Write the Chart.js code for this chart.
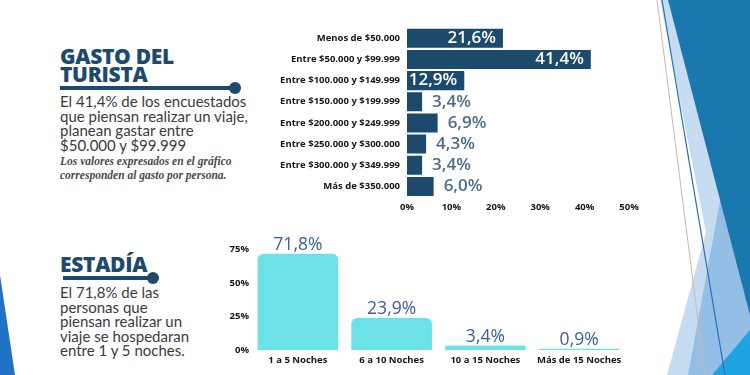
<!DOCTYPE html>
<html>
<head>
<meta charset="utf-8">
<script src="https://cdn.jsdelivr.net/npm/chart.js@4"></script>
<style>
  body { margin:0; width:750px; height:375px; background:#fff; overflow:hidden; position:relative; font-family:Lato, "Open Sans", sans-serif; }
  .abs { position:absolute; }
  .title { font-family:"Open Sans", sans-serif; font-weight:800; font-size:21px; line-height:18px; color:#1d4a6c; letter-spacing:-0.3px; }
  .body { font-family:Lato, sans-serif; font-size:15px; line-height:14.5px; color:#3b3b3b; }
  .note { font-family:"Liberation Serif", serif; font-style:italic; font-weight:bold; font-size:11.5px; line-height:14px; color:#4a4a4a; }
  .rule { height:4px; background:#1d4a6c; }
  .dot { width:12px; height:12px; border-radius:50%; background:#1d4a6c; }
</style>
</head>
<body>
<svg class="abs" style="left:0;top:0" width="750" height="375">
  <polygon points="0,275 15,375 0,375" fill="#2172c6"/>
  <polygon points="660,0 750,0 750,375 667,375 706,232" fill="#c6dcf0"/>
  <polygon points="722,190 750,150 750,375 688,375" fill="#86b6e3" opacity="0.8"/>
  <polygon points="668,0 750,0 750,315" fill="#1a78ae"/>
  <polygon points="712,375 750,330 750,375" fill="#1fa3e3"/>
  <line x1="657" y1="0" x2="705" y2="375" stroke="#c8b8a8" stroke-width="1"/>
  <line x1="662" y1="0" x2="725" y2="375" stroke="#2a6fb5" stroke-width="1.2"/>
</svg>

<div class="abs title" style="left:60px;top:47px">GASTO DEL<br>TURISTA</div>
<div class="abs rule" style="left:60px;top:86px;width:176px"></div>
<div class="abs dot" style="left:229px;top:82px"></div>
<div class="abs body" style="left:60px;top:94px">El 41,4% de los encuestados<br>que piensan realizar un viaje,<br>planean gastar entre<br>$50.000 y $99.999</div>
<div class="abs note" style="left:60px;top:154px">Los valores expresados en el gráfico<br>corresponden al gasto por persona.</div>

<div class="abs title" style="left:60px;top:255px">ESTADÍA</div>
<div class="abs rule" style="left:63px;top:276px;width:88px"></div>
<div class="abs dot" style="left:147px;top:272px"></div>
<div class="abs body" style="left:60px;top:285px">El 71,8% de las<br>personas que<br>piensan realizar un<br>viaje se hospedaran<br>entre 1 y 5 noches.</div>

<div class="abs" style="left:260px;top:15px;width:385px;height:205px"><canvas id="gasto"></canvas></div>
<div class="abs" style="left:200px;top:225px;width:440px;height:150px"><canvas id="estadia"></canvas></div>

<script>
// datos del gasto
const gastoLabels = ["Menos de $50.000","Entre $50.000 y $99.999","Entre $100.000 y $149.999","Entre $150.000 y $199.999","Entre $200.000 y $249.999","Entre $250.000 y $300.000","Entre $300.000 y $349.999","Más de $350.000"];
const gastoValues = [21.6, 41.4, 12.9, 3.4, 6.9, 4.3, 3.4, 6.0];
const gastoTicks = [0, 10, 20, 30, 40, 50];

// datos de la estadia
const estadiaLabels = ["1 a 5 Noches","6 a 10 Noches","10 a 15 Noches","Más de 15 Noches"];
const estadiaValues = [71.8, 23.9, 3.4, 0.9];
const estadiaTicks = [0, 25, 50, 75];

const tickFont = { family: "'Open Sans', sans-serif", weight: "bold", size: 9.5 };
const fmt = v => v.toFixed(1).replace(".", ",") + "%";

const gastoLabelsPlugin = {
  id: "gastoLabels",
  afterDatasetsDraw(chart) {
    const ctx = chart.ctx;
    ctx.save();
    ctx.font = "600 17px 'Open Sans', sans-serif";
    ctx.textBaseline = "middle";
    chart.getDatasetMeta(0).data.forEach((bar, i) => {
      const v = gastoValues[i];
      if (v > 10) {
        ctx.fillStyle = "#ffffff";
        ctx.textAlign = "right";
        ctx.fillText(fmt(v), bar.x - 7, bar.y);
      } else {
        ctx.fillStyle = "#4d6b8a";
        ctx.textAlign = "left";
        ctx.fillText(fmt(v), bar.x + 10, bar.y);
      }
    });
    ctx.restore();
  }
};

const estadiaLabelsPlugin = {
  id: "estadiaLabels",
  afterDatasetsDraw(chart) {
    const ctx = chart.ctx;
    ctx.save();
    ctx.font = "17.5px 'Open Sans', sans-serif";
    ctx.fillStyle = "#3a5e9c";
    ctx.textAlign = "center";
    ctx.textBaseline = "bottom";
    chart.getDatasetMeta(0).data.forEach((bar, i) => {
      ctx.fillText(fmt(estadiaValues[i]), bar.x, bar.y);
    });
    ctx.restore();
  }
};

new Chart(document.getElementById("gasto"), {
  type: "bar",
  data: {
    labels: gastoLabels,
    datasets: [{
      data: gastoValues,
      backgroundColor: "#1b4a6d",
      barPercentage: 0.9,
      categoryPercentage: 1
    }]
  },
  options: {
    indexAxis: "y",
    responsive: true,
    maintainAspectRatio: false,
    animation: false,
    layout: { padding: { top: 8, right: 16, bottom: 0, left: 0 } },
    plugins: { legend: { display: false }, tooltip: { enabled: false } },
    scales: {
      x: {
        min: 0, max: 50,
        afterBuildTicks: s => { s.ticks = gastoTicks.map(v => ({ value: v })); },
        afterFit: s => { s.height = 23; },
        grid: { display: false, drawTicks: false },
        border: { display: false },
        ticks: { font: tickFont, color: "#151515", padding: 5, callback: v => v + "%" }
      },
      y: {
        afterFit: s => { s.width = 147; },
        grid: { display: false, drawTicks: false },
        border: { display: false },
        ticks: { font: tickFont, color: "#151515", padding: 7 }
      }
    }
  },
  plugins: [gastoLabelsPlugin]
});

new Chart(document.getElementById("estadia"), {
  type: "bar",
  data: {
    labels: estadiaLabels,
    datasets: [{
      data: estadiaValues,
      backgroundColor: "#6de2e6",
      borderRadius: 6,
      barPercentage: 0.86,
      categoryPercentage: 1
    }]
  },
  options: {
    responsive: true,
    maintainAspectRatio: false,
    animation: false,
    layout: { padding: { top: 24.5, right: 14, bottom: 0, left: 0 } },
    plugins: { legend: { display: false }, tooltip: { enabled: false } },
    scales: {
      x: {
        afterFit: s => { s.height = 25; },
        grid: { display: false, drawTicks: false },
        border: { display: false },
        ticks: { font: tickFont, color: "#151515", padding: 5 }
      },
      y: {
        min: 0, max: 75,
        afterBuildTicks: s => { s.ticks = estadiaTicks.map(v => ({ value: v })); },
        afterFit: s => { s.width = 51; },
        grid: { display: false, drawTicks: false },
        border: { display: false },
        ticks: { font: tickFont, color: "#151515", padding: 2, callback: v => v + "%" }
      }
    }
  },
  plugins: [estadiaLabelsPlugin]
});
</script>
</body>
</html>
